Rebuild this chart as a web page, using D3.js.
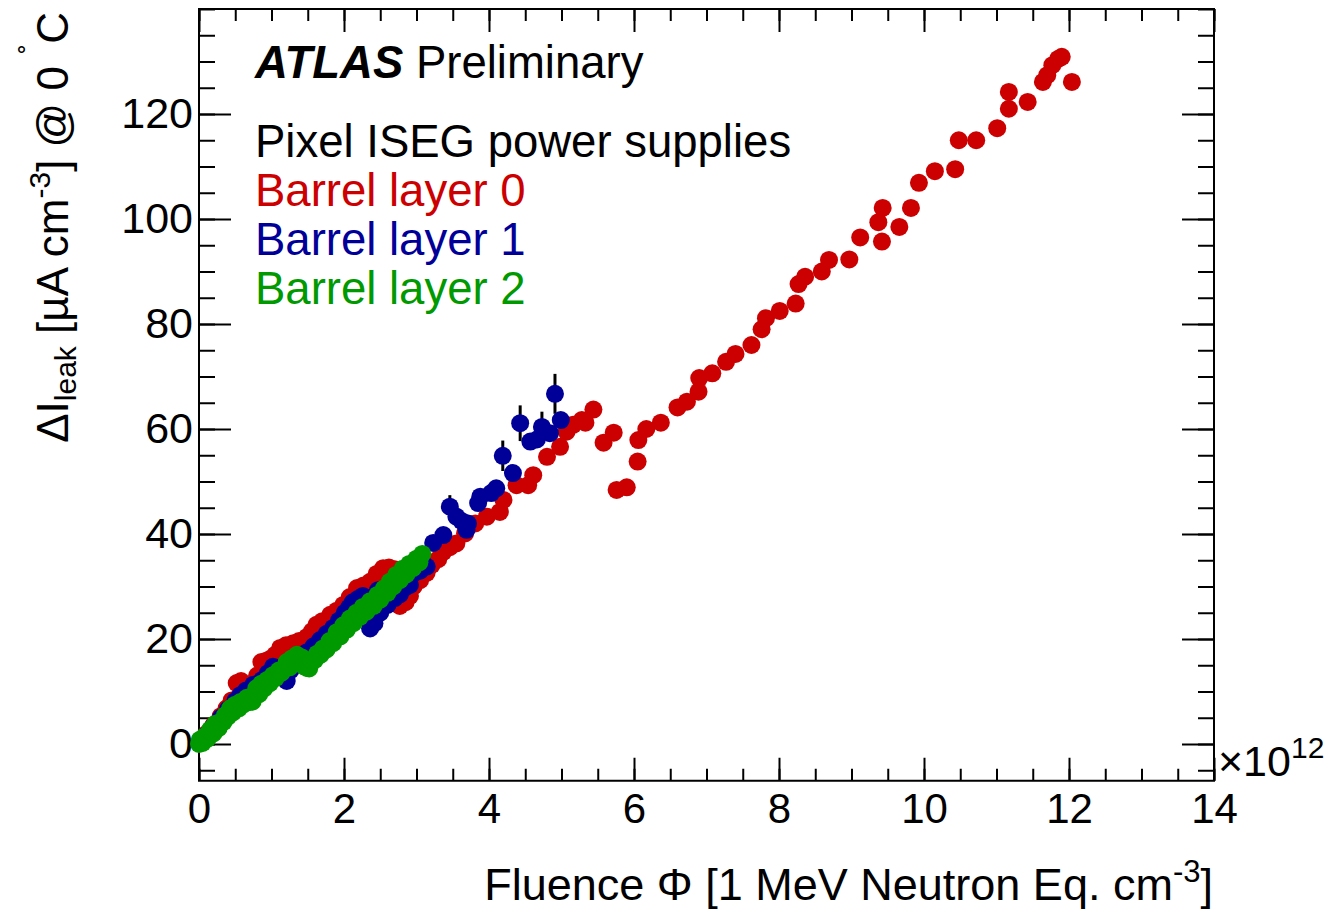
<!DOCTYPE html>
<html>
<head>
<meta charset="utf-8">
<script src="https://cdn.jsdelivr.net/npm/d3@7"></script>
<style>
    body { margin: 0; background: #fff; }
    svg { display: block; }
    text { font-family: "Liberation Sans", Arial, Helvetica, sans-serif; fill: #000; }
</style>
</head>
<body>
<div id="chart"></div>
<script>
    //data, fluence in units of 1e12, current in uA/cm3 ; optional 3rd value = error
    var layer0 = [
	[0.02,0.5],[0.1,1.9],[0.2,3.6],[0.3,5.3],[0.38,6.8],[0.45,8.3],[0.52,11.6],[0.58,12.0],
	[0.65,10.6],[0.72,11.3],[0.8,13.0],[0.86,15.6],[0.92,15.8],[0.98,16.2],[1.05,17.0],
	[1.12,18.3],[1.2,18.8],[1.3,19.2],[1.38,19.6],[1.49,20.4],[1.56,21.5],[1.62,22.7],
	[1.7,23.4],[1.81,24.6],[1.9,25.4],[1.99,26.5],[2.08,28.0],[2.18,29.7],[2.27,30.2],
	[2.36,30.9],[2.45,32.4],[2.54,33.5],[2.62,33.6],[2.70,33.3],[2.77,26.3],[2.85,27.0],
	[2.91,28.2],[2.96,30.0],[3.05,31.2],[3.14,32.6],[3.21,34.1],[3.30,35.2],[3.37,36.6],
	[3.46,37.5],[3.55,38.2],[3.67,40.1],[3.81,42.0],[3.97,43.3],[4.15,44.2],[4.20,46.5],
	[4.38,49.3],[4.54,49.3],[4.61,51.2],[4.80,54.7],[4.98,56.6],[5.07,59.5],[5.16,60.8],
	[5.28,61.7],[5.33,61.2],[5.44,63.7],[5.58,57.4],[5.72,59.3],[5.76,48.4],[5.90,48.9],
	[6.05,53.8],[6.06,57.9],[6.17,60.0],[6.37,61.2],[6.60,64.1],[6.73,65.2],[6.89,67.1],
	[6.90,69.7],[7.08,70.6],[7.27,72.8],[7.40,74.3],[7.62,76.0],[7.76,79.0],[7.82,81.1],
	[8.01,82.5],[8.23,83.9],[8.27,87.6],[8.36,89.0],[8.59,90.0],[8.69,92.2],[8.97,92.3],
	[9.12,96.5],[9.37,99.4],[9.42,95.7],[9.43,102.1],[9.66,98.5],[9.82,102.1],[9.93,106.9],
	[10.15,109.1],[10.43,109.5],[10.48,115.0],[10.72,115.0],[11.01,117.3],[11.17,121.0],
	[11.17,124.2],[11.43,122.3],[11.64,126.1],[11.70,127.4],[11.77,129.3],[11.85,130.5],
	[11.90,130.9,1.0],[12.04,126.1]
    ];
    var layer1 = [
	[0.02,0.3],[0.1,1.7],[0.2,3.4],[0.3,5.0],[0.4,6.6],[0.5,8.2],[0.57,9.3],[0.65,10.2],
	[0.75,11.3],[0.87,12.2],[0.95,13.5],[1.02,14.7],[1.1,14.5],[1.17,12.5],[1.21,12.0],
	[1.26,14.0],[1.3,16.0],[1.40,16.8],[1.49,17.5],[1.58,18.6],[1.67,19.8],[1.76,21.0],
	[1.85,22.1],[1.93,23.5],[2.01,25.0],[2.07,26.0],[2.12,27.0],[2.19,27.6],[2.26,28.2],
	[2.36,22.0],[2.42,23.0],[2.47,29.3],[2.5,25.0],[2.6,26.5],[2.63,29.5],[2.7,27.8],
	[2.77,28.5],[2.84,29.8],[2.91,30.3],[2.96,32.5],[3.05,33.0],[3.14,33.8],[3.23,38.3],
	[3.37,39.8],[3.46,45.2,2.2],[3.55,43.3],[3.62,42.5],[3.69,40.8],[3.71,42.0],[3.85,45.9],
	[3.88,47.1],[4.03,47.8],[4.10,48.7],[4.19,54.9,2.9],[4.33,51.6],[4.43,61.1,3.4],
	[4.57,57.6],[4.66,58.0],[4.73,60.4,2.9],[4.84,59.2],[4.91,66.7,3.8],[4.99,61.7]
    ];
    var layer2 = [
	[0.0,0.0],[0.01,0.8],[0.05,0.2],[0.08,1.5],[0.12,1.0],[0.15,2.7],[0.2,2.0],[0.22,3.8],
	[0.27,3.0],[0.29,4.2],[0.34,4.2],[0.36,5.5],[0.4,5.2],[0.43,6.8],[0.47,6.0],[0.5,7.5],
	[0.55,6.8],[0.57,8.0],[0.62,7.6],[0.66,8.8],[0.7,8.0],[0.74,8.1],[0.79,10.6],[0.83,9.5],
	[0.86,11.5],[0.9,10.6],[0.94,12.2],[0.98,11.6],[1.02,13.1],[1.06,12.6],[1.1,14.0],
	[1.14,13.6],[1.21,15.6],[1.25,14.6],[1.28,16.3],[1.33,15.6],[1.35,17.0],[1.42,16.5],
	[1.45,14.8],[1.49,14.5],[1.52,14.4],[1.55,16.0],[1.6,16.0],[1.63,17.2],[1.68,17.0],
	[1.71,18.2],[1.76,18.0],[1.80,19.6],[1.85,19.2],[1.90,21.3],[1.95,20.5],[1.99,22.6],
	[2.04,21.8],[2.08,23.9],[2.13,23.0],[2.17,25.0],[2.22,24.2],[2.26,26.1],[2.31,25.2],
	[2.36,27.2],[2.41,26.3],[2.46,28.4],[2.5,27.5],[2.55,29.6],[2.6,28.8],[2.63,30.9],
	[2.68,30.0],[2.72,32.2],[2.77,31.2],[2.81,33.4],[2.86,32.3],[2.90,34.3],[2.95,33.5],
	[3.00,35.3],[3.04,34.6],[3.08,36.2]
    ];
    var seriesNames = ["Barrel layer 0", "Barrel layer 1", "Barrel layer 2"];
    var seriesColors = ["#cc0000", "#000099", "#009900"];
    var xMajorTicks = [0, 2, 4, 6, 8, 10, 12, 14];
    var yMajorTicks = [0, 20, 40, 60, 80, 100, 120];

    var width = 1331, height = 915;
    var frame = {left: 199, right: 1214, top: 9, bottom: 780.75};

    var svg = d3.select("#chart").append("svg")
	.attr("width", width)
	.attr("height", height);

    var x = d3.scaleLinear().domain([0, 14]).range([frame.left, frame.right]);
    var y = d3.scaleLinear().domain([-7, 140]).range([frame.bottom, frame.top]);

    var xMinor = d3.range(0, 14.01, 0.5);
    var yMinor = d3.range(-5, 140.01, 5);

    //axes, ticks pointing inside on all four sides
    var addAxis = function(axis, tx, ty){
	var g = svg.append("g")
	    .attr("transform", "translate(" + tx + "," + ty + ")")
	    .call(axis);
	g.select(".domain").remove();
	g.selectAll("line").attr("stroke", "#000").attr("stroke-width", 2);
	return g;
    };
    addAxis(d3.axisBottom(x).tickValues(xMinor).tickSize(-12).tickFormat(""), 0, frame.bottom);
    addAxis(d3.axisTop(x).tickValues(xMinor).tickSize(-12).tickFormat(""), 0, frame.top);
    addAxis(d3.axisTop(x).tickValues(xMajorTicks).tickSize(-23).tickFormat(""), 0, frame.top);
    addAxis(d3.axisLeft(y).tickValues(yMinor).tickSize(-16).tickFormat(""), frame.left, 0);
    addAxis(d3.axisRight(y).tickValues(yMinor).tickSize(-16).tickFormat(""), frame.right, 0);
    addAxis(d3.axisRight(y).tickValues(yMajorTicks).tickSize(-32).tickFormat(""), frame.right, 0);

    var xAxis = addAxis(d3.axisBottom(x).tickValues(xMajorTicks).tickSize(-23).tickPadding(12)
			.tickFormat(d3.format("d")), 0, frame.bottom);
    var yAxis = addAxis(d3.axisLeft(y).tickValues(yMajorTicks).tickSize(-32).tickPadding(6)
			.tickFormat(d3.format("d")), frame.left, 0);
    xAxis.selectAll("text").attr("font-size", 42).attr("fill", "#000")
	.attr("font-family", "Liberation Sans, Arial, sans-serif");
    yAxis.selectAll("text").attr("font-size", 43).attr("fill", "#000")
	.attr("font-family", "Liberation Sans, Arial, sans-serif");

    //frame
    svg.append("rect")
	.attr("x", frame.left).attr("y", frame.top)
	.attr("width", frame.right - frame.left)
	.attr("height", frame.bottom - frame.top)
	.attr("fill", "none").attr("stroke", "#000").attr("stroke-width", 2);

    //graphs: error bars then markers, one layer after the other
    var plotLayer = function(data, color){
	var g = svg.append("g");
	g.selectAll("line").data(data.filter(function(d){ return d[2]; }))
	    .enter().append("line")
	    .attr("x1", function(d){ return x(d[0]); })
	    .attr("x2", function(d){ return x(d[0]); })
	    .attr("y1", function(d){ return y(d[1] - d[2]); })
	    .attr("y2", function(d){ return y(d[1] + d[2]); })
	    .attr("stroke", "#000").attr("stroke-width", 3);
	g.selectAll("circle").data(data)
	    .enter().append("circle")
	    .attr("cx", function(d){ return x(d[0]); })
	    .attr("cy", function(d){ return y(d[1]); })
	    .attr("r", 9)
	    .attr("fill", color);
    };
    plotLayer(layer0, seriesColors[0]);
    plotLayer(layer1, seriesColors[1]);
    plotLayer(layer2, seriesColors[2]);

    //labels
    var label = svg.append("text").attr("x", 255).attr("y", 78).attr("font-size", 45.5);
    label.append("tspan").attr("font-weight", "bold").attr("font-style", "italic").text("ATLAS");
    label.append("tspan").text(" Preliminary");

    svg.append("text").attr("x", 255).attr("y", 157).attr("font-size", 45.5)
	.text("Pixel ISEG power supplies");
    svg.selectAll(".leg").data(seriesNames).enter().append("text")
	.attr("class", "leg")
	.attr("x", 255)
	.attr("y", function(d, i){ return 206 + 49 * i; })
	.attr("font-size", 45.5)
	.style("fill", function(d, i){ return seriesColors[i]; })
	.text(function(d){ return d; });

    //axis titles
    var xt = svg.append("text").attr("x", 1213).attr("y", 900)
	.attr("text-anchor", "end").attr("font-size", 45);
    xt.append("tspan").text("Fluence \u03A6 [1 MeV Neutron Eq. cm");
    xt.append("tspan").attr("font-size", 31).attr("dy", -18).text("-3");
    xt.append("tspan").attr("dy", 18).text("]");

    var yt = svg.append("text")
	.attr("transform", "translate(68,12) rotate(-90)")
	.attr("text-anchor", "end").attr("font-size", 44);
    yt.append("tspan").text("\u0394I");
    yt.append("tspan").attr("font-size", 30).attr("dy", 8).text("leak");
    yt.append("tspan").attr("dy", -8).text(" [\u00B5A cm");
    yt.append("tspan").attr("font-size", 30).attr("dy", -18).text("-3");
    yt.append("tspan").attr("dy", 18).text("] @ 0 ");
    yt.append("tspan").attr("font-size", 30).attr("dy", -26).text("\u02DA");
    yt.append("tspan").attr("dy", 26).text("C");

    var ex = svg.append("text").attr("x", 1218).attr("y", 776).attr("font-size", 43);
    ex.append("tspan").text("\u00D710");
    ex.append("tspan").attr("font-size", 30).attr("dy", -18).text("12");
</script>
</body>
</html>
